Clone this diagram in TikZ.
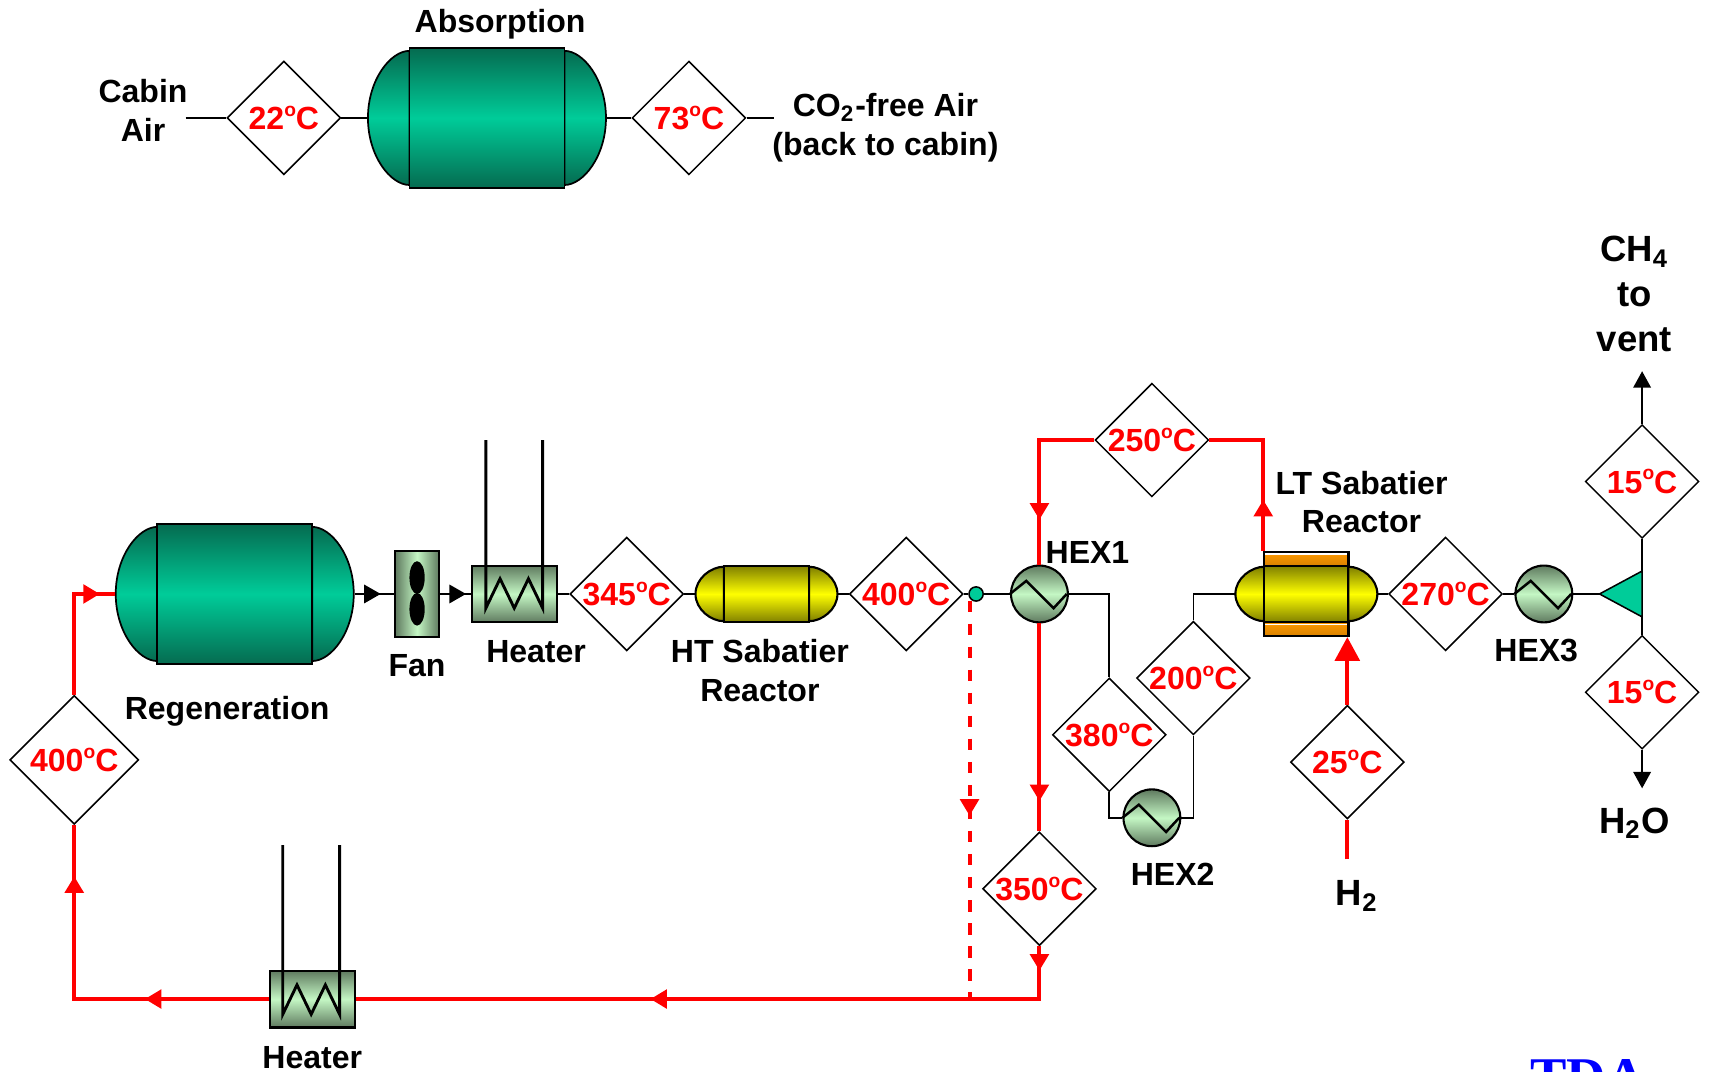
\documentclass[tikz,border=0pt]{standalone}
\usepackage{fontspec}
\setmainfont{Liberation Sans}
\usetikzlibrary{arrows.meta,shapes.geometric,decorations.markings}

\definecolor{tealdark}{HTML}{056B50}
\definecolor{tealmid}{HTML}{00CC99}
\definecolor{olivedark}{HTML}{7F7F00}
\definecolor{hexdark}{HTML}{5F7A5F}
\definecolor{hexlight}{HTML}{C4F7C4}
\definecolor{bandorange}{HTML}{FF9900}

\tikzset{
  tealfill/.style={draw=black,line width=0.45pt,top color=tealdark,bottom color=tealdark,middle color=tealmid},
  yellowfill/.style={draw=black,line width=0.55pt,top color=olivedark,bottom color=olivedark,middle color=yellow},
  hexfill/.style={draw=black,line width=0.55pt,top color=hexdark,bottom color=hexdark,middle color=hexlight},
  tempbox/.style={diamond,aspect=1,draw=black,line width=0.4pt,fill=white,inner sep=0pt,
    minimum width=1.04cm,minimum height=1.04cm,text=red,font=\fontsize{8.34}{10}\selectfont\bfseries},
  lbl/.style={align=center,inner sep=0pt,font=\fontsize{8.34}{10}\selectfont\bfseries},
  biglbl/.style={align=center,inner sep=0pt,font=\fontsize{9.5}{11.7}\selectfont\bfseries},
  hexnode/.style={circle,hexfill,inner sep=0pt,minimum size=0.52cm},
  heaternode/.style={rectangle,hexfill,inner sep=0pt,minimum width=0.78cm,minimum height=0.52cm},
  bandnode/.style={rectangle,draw=black,line width=0.55pt,top color=bandorange,bottom color=bandorange!85!black,
    inner sep=0pt,minimum width=0.77cm,minimum height=0.13cm},
  pipe/.style={line width=0.45pt},
  coil/.style={line width=0.75pt},
  zigzag/.style={line width=0.65pt},
  redflow/.style={red,line width=1.05pt},
  tipat/.style={postaction={decorate,decoration={markings,
    mark=at position #1 with {\arrow{Triangle[length=4.3pt,width=4.8pt]}}}}},
}

\newcommand{\degc}[1]{\makebox[0pt]{#1\raisebox{0.42em}{\fontsize{5}{5}\selectfont o}C}}

% style, name, x, y, half width, half body, half height
\newcommand{\vessel}[7]{%
  \node[inner sep=0pt,minimum width=2*#5*0.01cm,minimum height=2*#7*0.01cm] (#2) at (#3,#4) {};
  \shade[#1] ({#3-#6},{#4-0.96*#7}) .. controls ({#3-#6-0.45*(#5-#6)},{#4-0.96*#7}) and ({#3-#5},{#4-0.55*#7}) .. ({#3-#5},#4)
    .. controls ({#3-#5},{#4+0.55*#7}) and ({#3-#6-0.45*(#5-#6)},{#4+0.96*#7}) .. ({#3-#6},{#4+0.96*#7}) -- cycle;
  \shade[#1] ({#3+#6},{#4-0.96*#7}) .. controls ({#3+#6+0.45*(#5-#6)},{#4-0.96*#7}) and ({#3+#5},{#4-0.55*#7}) .. ({#3+#5},#4)
    .. controls ({#3+#5},{#4+0.55*#7}) and ({#3+#6+0.45*(#5-#6)},{#4+0.96*#7}) .. ({#3+#6},{#4+0.96*#7}) -- cycle;
  \shade[#1] ({#3-#6},{#4-#7}) rectangle ({#3+#6},{#4+#7});
}

\begin{document}
\begin{tikzpicture}[x=0.01cm,y=-0.01cm]
\useasboundingbox (0,0) rectangle (1568,981);

% absorption row
\vessel{tealfill}{absorb}{446}{108}{109}{71}{64}
\node[tempbox] (t22) at (260,108) {\degc{22}};
\node[tempbox] (t73) at (631,108) {\degc{73}};
\coordinate (cabinin) at (170,108);
\coordinate (cabinout) at (709,108);
\draw[pipe] (cabinin) -- (t22.west);
\draw[pipe] (t22.east) -- (absorb.west);
\draw[pipe] (absorb.east) -- (t73.west);
\draw[pipe] (t73.east) -- (cabinout);
\node[lbl] (absorblbl) at (458,22) {Absorption};
\node[lbl] (cabinlbl) at (131,101) {Cabin\\Air};
\node[lbl] (freelbl) at (811,117) {CO\textsubscript{2}-free Air\\(back to cabin)};

% regeneration, fan, heater
\vessel{tealfill}{regen}{215}{544}{109}{71}{64}
\node[rectangle,draw=black,line width=0.55pt,left color=hexdark,right color=hexdark,middle color=hexlight,
  inner sep=0pt,minimum width=0.4cm,minimum height=0.78cm] (fan) at (382,544) {};
\fill[black] (382,529) ellipse (7 and 15);
\fill[black] (382,558) ellipse (7 and 15);
\node[heaternode] (heata) at (471,544) {};
\draw[coil] (445,403) -- (445,557) -- (458,530) -- (471,557) -- (484,530) -- (497,557) -- (497,403);
\draw[pipe,tipat=0.66] (regen.east) -- (fan.west);
\draw[pipe,tipat=0.85] (fan.east) -- (heata.west);
\node[tempbox] (t345) at (574,544) {\degc{345}};
\draw[pipe] (heata.east) -- (t345.west);
\node[lbl] (regenlbl) at (208,651) {Regeneration};
\node[lbl] (fanlbl) at (382,610) {Fan};
\node[lbl] (heatalbl) at (491,597) {Heater};

% HT reactor
\vessel{yellowfill}{htreact}{702}{544}{65}{39}{26}
\node[tempbox] (t400a) at (830,544) {\degc{400}};
\node[circle,draw=black,line width=0.4pt,fill=tealmid,inner sep=0pt,minimum size=0.13cm] (dot) at (894,544) {};
\draw[pipe] (t345.east) -- (htreact.west);
\draw[pipe] (htreact.east) -- (t400a.west);
\draw[pipe] (t400a.east) -- (dot.west);
\node[lbl] (htlbl) at (696,614) {HT Sabatier\\Reactor};

% heat exchangers
\node[hexnode] (hexa) at (952,544) {};
\draw[zigzag] (hexa.west) -- ++(15,-12) -- ++(25,25) -- ++(12,-13);
\node[hexnode] (hexb) at (1055,749) {};
\draw[zigzag] (hexb.west) -- ++(15,-12) -- ++(25,25) -- ++(12,-13);
\node[hexnode] (hexc) at (1414,544) {};
\draw[zigzag] (hexc.west) -- ++(15,-12) -- ++(25,25) -- ++(12,-13);
\node[lbl] (hexalbl) at (996,506) {HEX1};
\node[lbl] (hexblbl) at (1074,801) {HEX2};
\node[lbl] (hexclbl) at (1407,596) {HEX3};

\node[tempbox] (t380) at (1016,673) {\degc{380}};
\node[tempbox] (t200) at (1093,621) {\degc{200}};
\draw[pipe] (dot.east) -- (hexa.west);
\draw[pipe] (hexa.east) -| (t380.north);
\draw[pipe] (t380.south) |- (hexb.west);
\draw[pipe] (hexb.east) -| (t200.south);

% LT reactor
\node[bandnode] (ltup) at (1196.5,512) {};
\node[bandnode] (ltdn) at (1196.5,576) {};
\draw[white,line width=0.5pt] (1159,507.5) -- (1234,507.5);
\draw[white,line width=0.5pt] (1159,572) -- (1234,572);
\vessel{yellowfill}{ltreact}{1196.5}{544}{65}{38.5}{26}
\draw[pipe] (t200.north) |- (ltreact.west);
\node[lbl] (ltlbl) at (1247,460) {LT Sabatier\\Reactor};
\node[tempbox] (t270) at (1324,544) {\degc{270}};
\draw[pipe] (ltreact.east) -- (t270.west);
\draw[pipe] (t270.east) -- (hexc.west);

% splitter and outlets
\coordinate (spltip) at (1465,544);
\coordinate (spltop) at (1504,523);
\coordinate (splbot) at (1504,565);
\draw[pipe] (hexc.east) -- (spltip);
\filldraw[draw=black,line width=0.4pt,fill=tealmid] (spltip) -- (spltop) -- (splbot) -- cycle;
\node[tempbox] (t15a) at (1504,441) {\degc{15}};
\node[tempbox] (t15b) at (1504,634) {\degc{15}};
\coordinate (ventend) at (1504,340);
\coordinate (waterend) at (1504,722);
\draw[pipe] (spltop) -- (t15a.south);
\draw[pipe] (splbot) -- (t15b.north);
\draw[pipe,-{Triangle[length=4.3pt,width=4.6pt]}] (t15a.north) -- (ventend);
\draw[pipe,-{Triangle[length=4.3pt,width=4.6pt]}] (t15b.south) -- (waterend);
\node[biglbl] (ventlbl) at (1497,269) {CH\textsubscript{4}\\to\\vent};
\node[biglbl] (waterlbl) at (1497,754) {H\textsubscript{2}O};

% hydrogen feed
\node[tempbox] (t25) at (1234,698) {\degc{25}};
\coordinate (hfeed) at (1234,787);
\draw[redflow] (hfeed) -- (t25.south);
\draw[redflow,-{Triangle[length=6.2pt,width=6.4pt]}] (t25.north) -- (t25.north |- ltdn.south);
\node[biglbl] (hlbl) at (1243,821) {H\textsubscript{2}};

% hot loop
\node[tempbox] (t250) at (1055,403) {\degc{250}};
\node[tempbox] (t350) at (952,814) {\degc{350}};
\node[tempbox,minimum width=1.18cm,minimum height=1.18cm] (t400b) at (68,696) {\degc{400}};
\node[heaternode] (heatb) at (286,915) {};
\draw[coil] (259,774) -- (259,929) -- (272,902) -- (285,929) -- (298,902) -- (311,929) -- (311,774);
\node[lbl] (heatblbl) at (286,969) {Heater};
\coordinate (loopa) at (952,915);
\coordinate (loopb) at (68,915);
\coordinate (dashtop) at (888,550);
\coordinate (dashend) at (888,915);
\draw[redflow,tipat=0.31] (ltup.north west) |- (t250.east);
\draw[redflow,tipat=0.75] (t250.west) -| (hexa.north);
\draw[redflow,tipat=0.855] (hexa.south) -- (t350.north);
\draw[redflow,tipat=0.033,tipat=0.6] (t350.south) -- (loopa) -- (heatb.east);
\draw[redflow,tipat=0.336,tipat=0.861] (heatb.west) -- (loopb) -- (t400b.south);
\draw[redflow,tipat=0.893] (t400b.north) |- (regen.west);
\draw[redflow,dashed,tipat=0.54] (dashtop) -- (dashend);

% logo cut by the page edge
\begin{scope}
\clip (0,0) rectangle (1568,981);
\node[anchor=north west,inner sep=0pt,text=blue,font=\fontsize{14.2}{15}\fontspec{Liberation Serif}\bfseries] (tdalogo) at (1401,970) {TDA};
\end{scope}
\end{tikzpicture}
\end{document}
